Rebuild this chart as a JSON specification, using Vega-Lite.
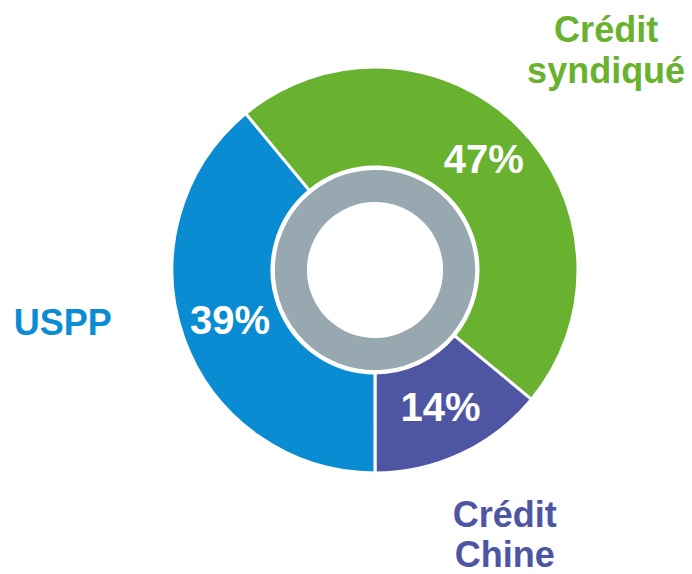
{
  "$schema": "https://vega.github.io/schema/vega-lite/v6.json",
  "width": 634,
  "height": 540,
  "autosize": "none",
  "padding": {"left": 58, "top": 0, "right": 0, "bottom": 34},
  "background": "white",
  "config": {"view": {"stroke": null}},
  "data": {
    "values": [
      {"cat": "Crédit syndiqué", "label": ["Crédit", "syndiqué"], "share": 47, "pct": "47%", "rank": 1},
      {"cat": "Crédit Chine", "label": ["Crédit", "Chine"], "share": 14, "pct": "14%", "rank": 2},
      {"cat": "USPP", "label": ["USPP"], "share": 39, "pct": "39%", "rank": 3}
    ]
  },
  "encoding": {
    "theta": {"field": "share", "type": "quantitative", "stack": true, "scale": {"range": [-0.6912, 5.592]}},
    "order": {"field": "rank", "type": "quantitative"},
    "color": {
      "field": "cat", "type": "nominal", "legend": null,
      "scale": {"domain": ["Crédit syndiqué", "Crédit Chine", "USPP"], "range": ["#68B22F", "#4E55A2", "#0A8CD2"]}
    }
  },
  "layer": [
    {"mark": {"type": "arc", "outerRadius": 203, "innerRadius": 103, "stroke": "white", "strokeWidth": 3}},
    {
      "data": {"values": [{"ring": 100}]},
      "mark": {"type": "arc", "outerRadius": 100, "innerRadius": 68, "color": "#98A8B0"},
      "encoding": {"theta": {"field": "ring", "type": "quantitative"}, "order": null, "color": null}
    },
    {
      "mark": {"type": "text", "radius": 154, "font": "Liberation Sans", "fontWeight": "bold", "fontSize": 40, "color": "white", "align": "center", "baseline": "middle"},
      "encoding": {"text": {"field": "pct"}, "color": null}
    },
    {
      "mark": {"type": "text", "radius": 300, "dx": 19, "dy": -16, "font": "Liberation Sans", "fontWeight": "bold", "fontSize": 36, "lineHeight": 41, "align": "center", "baseline": "alphabetic"},
      "encoding": {"text": {"condition": {"test": "datum.cat === 'Crédit syndiqué'", "field": "label"}, "value": ""}}
    },
    {
      "mark": {"type": "text", "radius": 300, "dx": 2, "dy": -14, "font": "Liberation Sans", "fontWeight": "bold", "fontSize": 36, "lineHeight": 40, "align": "center", "baseline": "alphabetic"},
      "encoding": {"text": {"condition": {"test": "datum.cat === 'Crédit Chine'", "field": "label"}, "value": ""}}
    },
    {
      "mark": {"type": "text", "radius": 300, "dx": -30, "dy": -37, "font": "Liberation Sans", "fontWeight": "bold", "fontSize": 36, "align": "center", "baseline": "alphabetic"},
      "encoding": {"text": {"condition": {"test": "datum.cat === 'USPP'", "field": "label"}, "value": ""}}
    }
  ]
}
